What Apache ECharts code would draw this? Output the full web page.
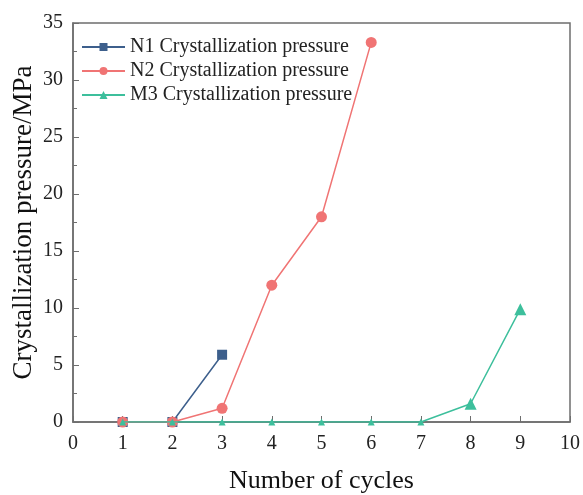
<!DOCTYPE html>
<html>
<head>
<meta charset="utf-8">
<script src="https://cdn.jsdelivr.net/npm/echarts@6/dist/echarts.min.js"></script>
<style>
  html, body { margin: 0; padding: 0; background: #fff; }
  #chart { width: 583px; height: 495px; }
</style>
</head>
<body>
<div id="chart"></div>
<script>
// values
const cycles = [1, 2, 3, 4, 5, 6, 7, 8, 9];
const n1Values = [0, 0, 5.9];
const n2Values = [0, 0, 1.2, 12.0, 18.0, 33.3];
const m3Values = [0, 0, 0, 0, 0, 0, 0, 1.6, 9.9];
const seriesNames = [
  "N1 Crystallization pressure",
  "N2 Crystallization pressure",
  "M3 Crystallization pressure",
];

const font = "Liberation Serif";
const axisColor = "#6e6e6e";

function pairs(vals) {
  return vals.map((v, i) => [cycles[i], v]);
}

const myChart = echarts.init(document.getElementById("chart"));
let option = {
  animation: false,
  grid: {
    left: 73,
    right: 13,
    top: 23,
    bottom: 73,
    outerBoundsMode: "none",
    show: true,
    borderColor: axisColor,
    borderWidth: 1.5,
  },
  legend: {
    left: 76,
    top: 32,
    orient: "vertical",
    itemGap: 4,
    itemWidth: 43,
    itemHeight: 10,
    textStyle: { fontFamily: font, fontSize: 20, color: "#222" },
    data: seriesNames,
  },
  xAxis: {
    type: "value",
    min: 0,
    max: 10,
    interval: 1,
    name: "Number of cycles",
    nameLocation: "middle",
    nameGap: 46,
    nameTextStyle: { fontFamily: font, fontSize: 26, color: "#111" },
    axisLine: { lineStyle: { color: axisColor, width: 1.5 } },
    axisTick: { inside: true, length: 6, lineStyle: { color: axisColor } },
    axisLabel: { fontFamily: font, fontSize: 20, color: "#222", margin: 12 },
    splitLine: { show: false },
  },
  yAxis: {
    type: "value",
    min: 0,
    max: 35,
    interval: 5,
    name: "Crystallization pressure/MPa",
    nameLocation: "middle",
    nameGap: 36,
    nameMoveOverlap: false,
    nameTextStyle: { fontFamily: font, fontSize: 27, color: "#111" },
    axisLine: { show: true, lineStyle: { color: axisColor, width: 1.5 } },
    axisTick: { show: true, inside: true, length: 6, lineStyle: { color: axisColor } },
    minorTick: { show: true, splitNumber: 2, length: 4, lineStyle: { color: axisColor } },
    axisLabel: { fontFamily: font, fontSize: 20, color: "#222", margin: 10 },
    splitLine: { show: false },
  },
  series: [
    {
      name: seriesNames[0],
      type: "line",
      symbol: "rect",
      symbolSize: 10,
      data: pairs(n1Values),
      lineStyle: { width: 1.5, color: "#3d5f8c" },
      itemStyle: { color: "#3d5f8c" },
      z: 2,
    },
    {
      name: seriesNames[1],
      type: "line",
      symbol: "circle",
      symbolSize: 11,
      data: pairs(n2Values),
      lineStyle: { width: 1.5, color: "#f07474" },
      itemStyle: { color: "#f07474" },
      z: 3,
    },
    {
      name: seriesNames[2],
      type: "line",
      symbol: "triangle",
      symbolSize: (v) => (v[1] === 0 ? 7 : 12),
      data: pairs(m3Values),
      lineStyle: { width: 1.5, color: "#3dbf9c" },
      itemStyle: { color: "#3dbf9c" },
      z: 4,
    },
  ],
};
myChart.setOption(option);
</script>
</body>
</html>
